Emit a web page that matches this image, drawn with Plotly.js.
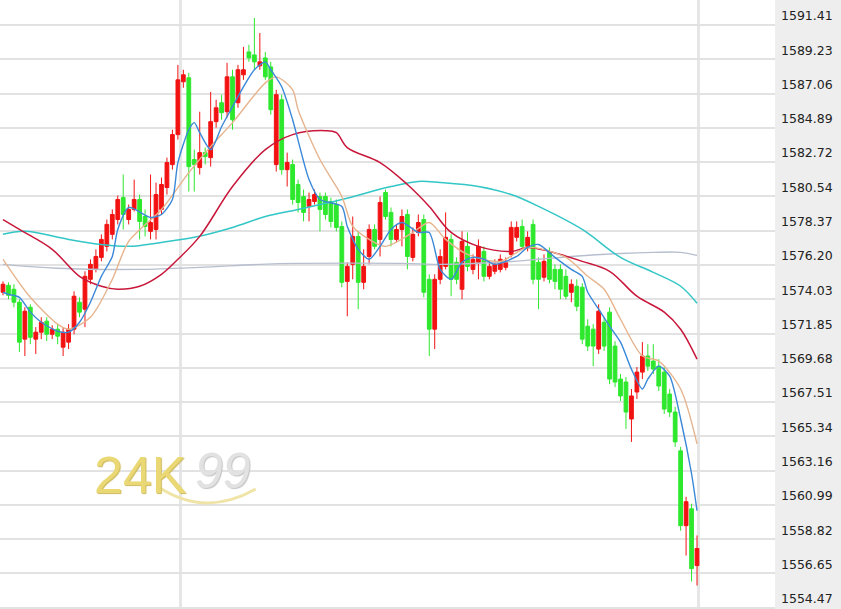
<!DOCTYPE html>
<html>
<head>
<meta charset="utf-8">
<script src="https://cdn.plot.ly/plotly-3.0.1.min.js"></script>
<style>html,body{margin:0;padding:0;background:#fff;}#chart{width:841px;height:609px;}</style>
</head>
<body>
<div id="chart"></div>
<script>
// ---- candle data ----
const openP = [1574.47,1574.91,1574.66,1573.84,1571.50,1573.52,1571.50,1571.94,1572.64,1571.81,
1572.13,1570.99,1571.31,1572.13,1573.84,1573.40,1575.29,1575.92,1576.68,1577.38,
1578.14,1579.08,1580.47,1579.08,1579.72,1580.35,1579.27,1578.33,1578.45,1579.72,
1581.11,1582.56,1584.46,1587.81,1588.06,1582.88,1582.37,1583.32,1583.00,1585.28,
1586.48,1585.91,1588.12,1586.48,1588.25,1589.70,1589.51,1588.82,1589.32,1588.75,
1582.56,1586.67,1582.24,1582.56,1581.30,1580.54,1579.91,1580.22,1580.54,1580.54,
1580.22,1580.03,1578.64,1575.16,1576.24,1578.01,1575.10,1576.74,1578.45,1577.82,
1580.79,1579.53,1577.82,1578.45,1579.40,1576.68,1578.26,1579.08,1575.29,1572.13,
1575.29,1576.11,1577.82,1576.37,1574.66,1577.38,1575.92,1576.37,1577.06,1575.48,
1575.80,1575.92,1576.05,1576.87,1577.95,1578.64,1577.38,1578.77,1576.37,1575.42,
1577.00,1575.92,1575.92,1575.48,1574.47,1574.85,1574.79,1572.32,1572.13,1570.87,
1572.57,1573.21,1571.06,1568.97,1568.78,1566.44,1568.15,1569.41,1570.43,1570.11,
1569.79,1569.41,1568.02,1566.88,1564.42,1559.68,1560.75,1557.15];
const highP = [1575.16,1575.10,1574.98,1574.03,1573.52,1573.71,1572.26,1572.89,1572.89,1572.38,
1572.45,1572.26,1572.45,1574.53,1574.15,1575.80,1576.56,1577.19,1578.14,1579.08,
1579.72,1580.60,1581.93,1580.03,1581.61,1580.66,1579.72,1581.93,1581.42,1581.74,
1583.00,1584.77,1588.88,1588.57,1588.38,1583.51,1585.91,1583.64,1587.17,1586.67,
1586.99,1589.01,1588.57,1588.88,1590.02,1590.15,1591.85,1590.90,1589.70,1589.07,
1587.30,1586.99,1583.32,1582.88,1581.61,1580.98,1580.79,1580.98,1580.79,1580.79,
1580.47,1580.35,1578.96,1576.37,1579.27,1578.33,1577.19,1578.77,1578.77,1580.54,
1580.98,1579.84,1578.77,1579.72,1579.72,1578.58,1579.40,1579.40,1575.61,1575.61,
1577.19,1579.53,1578.14,1576.68,1578.33,1578.26,1576.87,1577.82,1577.38,1576.43,
1576.56,1576.87,1576.68,1578.96,1578.96,1579.08,1578.33,1579.08,1576.68,1576.87,
1577.31,1576.24,1576.24,1575.92,1575.29,1575.29,1575.04,1572.76,1572.45,1573.71,
1572.89,1573.52,1571.37,1569.29,1569.10,1568.34,1569.73,1571.31,1571.18,1571.18,
1570.23,1569.73,1568.34,1567.20,1564.67,1561.51,1561.07,1559.06];
const lowP = [1574.28,1574.03,1573.52,1570.68,1570.43,1571.18,1570.56,1571.50,1571.37,1571.50,
1571.18,1570.43,1570.87,1571.81,1572.89,1572.26,1574.98,1575.73,1576.43,1577.06,
1577.82,1578.77,1578.45,1578.77,1579.59,1577.82,1578.01,1577.82,1577.82,1579.40,
1580.66,1582.24,1584.14,1587.43,1580.85,1580.85,1581.93,1582.56,1582.43,1584.90,
1585.40,1585.53,1584.77,1586.16,1587.93,1589.07,1588.57,1588.57,1587.93,1585.72,
1582.12,1581.93,1581.17,1580.03,1579.53,1578.96,1578.96,1580.03,1578.33,1579.08,
1578.58,1578.33,1574.79,1572.95,1575.29,1573.40,1574.66,1576.24,1577.19,1576.74,
1579.08,1577.38,1577.63,1577.38,1575.92,1576.43,1578.01,1574.15,1570.43,1570.87,
1574.98,1575.92,1574.22,1574.98,1574.03,1575.80,1575.61,1575.29,1575.16,1575.29,
1575.61,1575.73,1575.86,1576.68,1577.69,1577.19,1577.06,1574.98,1573.40,1575.16,
1575.04,1574.66,1574.03,1574.03,1573.84,1573.27,1571.18,1570.75,1569.79,1570.56,
1570.75,1568.65,1568.46,1567.58,1565.81,1564.99,1567.71,1568.97,1569.48,1569.29,
1568.21,1566.76,1566.57,1564.67,1559.36,1557.79,1556.14,1555.89];
const closeP = [1574.98,1574.28,1573.84,1571.31,1573.27,1571.62,1571.94,1572.57,1571.81,1572.13,
1571.69,1571.94,1572.13,1574.22,1573.21,1575.48,1576.24,1576.74,1577.82,1578.77,
1579.40,1580.35,1579.40,1579.72,1580.35,1578.96,1578.64,1578.89,1580.66,1581.30,
1582.69,1584.46,1587.93,1588.25,1582.43,1582.56,1583.32,1583.07,1585.28,1586.16,
1585.85,1588.12,1585.40,1588.57,1588.57,1589.32,1589.07,1589.07,1588.12,1586.04,
1586.99,1582.24,1582.69,1580.35,1580.16,1579.53,1580.35,1580.66,1579.72,1579.40,
1578.96,1578.58,1575.10,1576.11,1578.01,1575.10,1576.11,1578.45,1577.38,1580.16,
1579.27,1577.82,1578.45,1579.27,1576.74,1578.14,1578.89,1574.47,1572.13,1575.29,
1576.74,1577.95,1575.29,1575.29,1577.69,1576.11,1576.56,1577.38,1575.48,1576.11,
1576.24,1576.56,1576.37,1578.58,1578.58,1577.38,1577.95,1575.29,1575.29,1576.43,
1575.29,1575.16,1574.66,1574.22,1574.98,1573.58,1571.50,1571.06,1571.06,1573.27,
1571.06,1568.97,1568.78,1567.90,1566.88,1567.90,1569.41,1570.43,1569.79,1569.60,
1568.53,1567.07,1566.88,1564.99,1559.68,1561.20,1556.96,1558.23];

// ---- moving-average lines (at candle positions) ----
const ma5X = [0,1,3,5,7,10,12,14,16,18,20,21,23,27,29,31,32,34,35,36,38,40,42,44,46,48,49,51,53,56,58,62,63,65,67,69,71,73,76,78,80,82,84,86,88,90,94,96,98,101,104,106,107,109,111,113,115,117,118,120,122,124,126,127];
const ma5Y = [1574.47,1574.34,1574.15,1573.21,1572.57,1572.00,1571.94,1572.57,1573.84,1575.48,1576.74,1578.45,1579.84,1579.21,1579.40,1580.35,1582.69,1584.77,1585.22,1584.58,1583.51,1584.96,1586.23,1587.49,1588.57,1589.07,1588.57,1587.49,1585.40,1581.61,1580.35,1579.91,1578.64,1577.19,1576.56,1577.38,1578.45,1578.89,1578.26,1578.26,1575.92,1575.29,1576.37,1576.68,1576.56,1576.24,1576.74,1577.31,1577.50,1576.68,1575.92,1575.48,1574.47,1573.40,1572.32,1571.31,1569.60,1568.34,1568.97,1569.79,1569.16,1566.44,1562.97,1560.63];
const ma10X = [0,5,10,12,16,20,23,29,34,38,42,48,50,53,54,58,62,64,67,70,75,78,81,85,91,96,103,107,110,113,117,120,124,127];
const ma10Y = [1576.56,1574.15,1572.45,1572.13,1572.89,1575.29,1577.69,1579.72,1582.05,1583.70,1585.22,1587.74,1588.12,1587.30,1586.04,1582.88,1580.54,1578.64,1577.82,1577.38,1578.26,1578.89,1577.82,1576.87,1576.43,1577.31,1576.68,1575.48,1574.66,1572.76,1570.43,1570.11,1568.34,1564.86];
const ma30X = [0,3,9,14,18,21,25,29,32,36,42,48,53,59,61,63,69,74,78,82,87,93,96,100,106,111,116,121,124,127];
const ma30Y = [1579.08,1578.45,1577.19,1575.48,1574.85,1574.66,1574.85,1575.61,1576.56,1578.01,1581.17,1583.51,1584.46,1584.71,1584.58,1583.64,1582.69,1581.30,1579.91,1578.26,1577.38,1577.06,1577.31,1577.06,1576.43,1575.80,1574.22,1573.21,1572.13,1570.23];
const ma60X = [0,4,12,18,23,29,35,42,48,54,62,71,76,80,87,93,98,106,113,119,124,127];
const ma60Y = [1578.14,1578.33,1577.82,1577.50,1577.38,1577.63,1577.95,1578.58,1579.27,1579.72,1580.35,1581.17,1581.49,1581.42,1581.17,1580.66,1579.91,1578.45,1576.68,1575.73,1574.85,1573.77];
const ma120X = [0,10,25,36,47,54,73,80,91,98,104,113,119,124,127];
const ma120Y = [1576.24,1575.99,1575.92,1576.05,1576.24,1576.30,1576.30,1576.24,1576.37,1576.56,1576.74,1576.93,1577.00,1577.00,1576.81];

// ---- axis labels ----
const priceTicks = [1591.41,1589.23,1587.06,1584.89,1582.72,1580.54,1578.37,1576.20,1574.03,1571.85,1569.68,1567.51,1565.34,1563.16,1560.99,1558.82,1556.65,1554.47];
const priceLabels = ["1591.41","1589.23","1587.06","1584.89","1582.72","1580.54","1578.37","1576.20","1574.03","1571.85","1569.68","1567.51","1565.34","1563.16","1560.99","1558.82","1556.65","1554.47"];
const dayBreaks = [32.4, 127.2];

const xIdx = openP.map((_, i) => i);

const traces = [
  {
    type: 'candlestick', x: xIdx, open: openP, high: highP, low: lowP, close: closeP,
    increasing: {line: {color: '#f21212', width: 1}, fillcolor: '#f21212'},
    decreasing: {line: {color: '#2ee82e', width: 1}, fillcolor: '#2ee82e'},
    whiskerwidth: 0, hoverinfo: 'skip'
  },
  {type: 'scatter', mode: 'lines', x: ma120X, y: ma120Y, line: {color: '#b7bfcf', width: 1.4, shape: 'spline', smoothing: 1}, hoverinfo: 'skip'},
  {type: 'scatter', mode: 'lines', x: ma60X, y: ma60Y, line: {color: '#33c6c6', width: 1.5, shape: 'spline', smoothing: 1}, hoverinfo: 'skip'},
  {type: 'scatter', mode: 'lines', x: ma30X, y: ma30Y, line: {color: '#c8173a', width: 1.5, shape: 'spline', smoothing: 1}, hoverinfo: 'skip'},
  {type: 'scatter', mode: 'lines', x: ma10X, y: ma10Y, line: {color: '#e6b48e', width: 1.4, shape: 'spline', smoothing: 0.8}, hoverinfo: 'skip'},
  {type: 'scatter', mode: 'lines', x: ma5X, y: ma5Y, line: {color: '#3a88d8', width: 1.4, shape: 'spline', smoothing: 0.7}, hoverinfo: 'skip'}
];

const layout = {
  width: 841, height: 609,
  margin: {l: 0, r: 66, t: 0, b: 0, pad: 0},
  paper_bgcolor: '#eeeeee',
  plot_bgcolor: '#ffffff',
  showlegend: false,
  hovermode: false,
  boxgap: 0.02,
  xaxis: {
    range: [-0.55, 141.27],
    rangeslider: {visible: false},
    tickmode: 'array', tickvals: dayBreaks, showticklabels: false, ticks: '',
    showgrid: true, gridcolor: '#e6e6e6', gridwidth: 3,
    zeroline: false, showline: false, fixedrange: true
  },
  yaxis: {
    side: 'right',
    range: [1554.40, 1592.99],
    tickmode: 'array', tickvals: priceTicks, ticktext: priceLabels,
    ticks: '', ticklabelshift: -9, ticklabelstandoff: 5,
    showgrid: true, gridcolor: '#e2e2e2', gridwidth: 2,
    zeroline: false, showline: false, fixedrange: true,
    tickfont: {family: 'DejaVu Sans, Verdana, sans-serif', size: 12.5, color: '#222222'}
  },
  annotations: [
    {xref: 'paper', yref: 'paper', x: 0.181, y: 0.220, xanchor: 'center', yanchor: 'middle', text: '24K', showarrow: false,
     font: {family: 'Liberation Sans, Arial, sans-serif', size: 52, color: '#ead874', shadow: '1px 1px 1px #cdb95c'}},
    {xref: 'paper', yref: 'paper', x: 0.288, y: 0.226, xanchor: 'center', yanchor: 'middle', text: '99', showarrow: false,
     font: {family: 'Liberation Sans, Arial, sans-serif', size: 50, color: '#e2e2e2', style: 'italic', shadow: '1px 1px 1px #c4c4c4'}}
  ],
  shapes: [
    {type: 'path', xref: 'paper', yref: 'paper', layer: 'above',
     path: 'M 0.205,0.200 Q 0.265,0.150 0.330,0.197',
     line: {color: '#efe4a6', width: 3}}
  ]
};

Plotly.newPlot('chart', traces, layout, {staticPlot: true, displayModeBar: false});
</script>
</body>
</html>
